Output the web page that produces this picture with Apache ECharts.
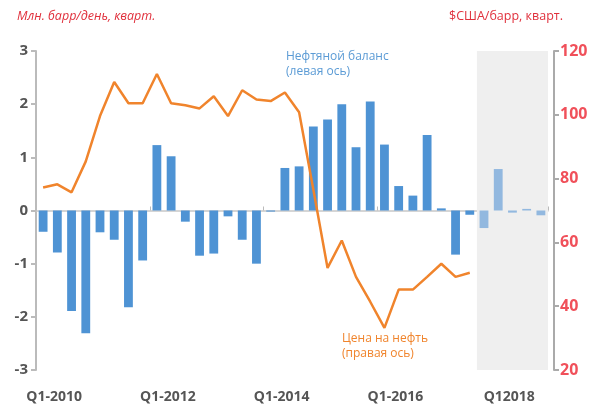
<!DOCTYPE html>
<html>
<head>
<meta charset="utf-8">
<script src="https://cdn.jsdelivr.net/npm/echarts@6/dist/echarts.min.js"></script>
<style>
  html, body { margin: 0; padding: 0; background: #fff; }
  #chart { width: 599px; height: 409px; }
</style>
</head>
<body>
<div id="chart"></div>
<script>
// quarters Q1-2010 .. Q4-2018
const quarters = [
  'Q1-2010', 'Q2-2010', 'Q3-2010', 'Q4-2010',
  'Q1-2011', 'Q2-2011', 'Q3-2011', 'Q4-2011',
  'Q1-2012', 'Q2-2012', 'Q3-2012', 'Q4-2012',
  'Q1-2013', 'Q2-2013', 'Q3-2013', 'Q4-2013',
  'Q1-2014', 'Q2-2014', 'Q3-2014', 'Q4-2014',
  'Q1-2015', 'Q2-2015', 'Q3-2015', 'Q4-2015',
  'Q1-2016', 'Q2-2016', 'Q3-2016', 'Q4-2016',
  'Q1-2017', 'Q2-2017', 'Q3-2017', 'Q4-2017',
  'Q1-2018', 'Q2-2018', 'Q3-2018', 'Q4-2018'
]
// labels shown under the axis (every 8 quarters)
const tickLabels = { 0: 'Q1-2010', 8: 'Q1-2012', 16: 'Q1-2014', 24: 'Q1-2016', 32: 'Q12018' }

// oil balance, mb/d (left axis)
const balance = [
  -0.4, -0.79, -1.89, -2.31, -0.41, -0.55, -1.82, -0.94,
  1.23, 1.02, -0.21, -0.85, -0.81, -0.11, -0.55, -1.0,
  -0.02, 0.8, 0.83, 1.58, 1.71, 2.0, 1.19, 2.05,
  1.24, 0.46, 0.28, 1.42, 0.04, -0.83, -0.08, -0.33,
  0.78, -0.04, 0.03, -0.09
]

// oil price, $/bbl (right axis)
const price = [
  77.2, 78.2, 75.7, 85.4, 99.6, 110.3, 103.6, 103.6,
  112.8, 103.6, 103.0, 102.0, 105.8, 99.6, 107.7, 104.8,
  104.3, 107.0, 100.8, 76.6, 52.0, 60.6, 49.2, 41.4,
  33.2, 45.2, 45.2, 49.2, 53.3, 49.2, 50.5, null,
  null, null, null, null
]

// forecast period (shaded), in quarter positions
const forecastFrom = 31
const forecastTo = 36

const chart = echarts.init(document.getElementById('chart'))

const option = {
  animation: false,
  textStyle: { fontFamily: 'Open Sans' },
  grid: { left: 36, right: 51, top: 51, bottom: 39 },
  xAxis: [
    {
      type: 'category',
      data: quarters,
      position: 'bottom',
      axisLine: { show: false, onZero: false },
      axisTick: { show: false },
      axisLabel: {
        interval: 0,
        formatter: (v, i) => tickLabels[i] || '',
        color: '#555',
        fontWeight: 'bold',
        fontSize: 14,
        margin: 20,
        padding: [0, 0, 0, 22]
      }
    },
    {
      type: 'category',
      data: quarters,
      position: 'bottom',
      axisLine: { show: true, onZero: true, lineStyle: { color: '#c8c8c8', width: 1.5 } },
      axisTick: { show: true, inside: true, interval: 7, length: 4, lineStyle: { color: '#bbb' } },
      axisLabel: { show: false }
    },
    {
      type: 'value',
      min: 0,
      max: quarters.length,
      show: false,
      axisLine: { onZero: false }
    }
  ],
  yAxis: [
    {
      type: 'value',
      min: -3,
      max: 3,
      interval: 1,
      axisLine: { show: true, lineStyle: { color: '#bbb', width: 2 } },
      axisTick: { show: true, length: 5, lineStyle: { color: '#bbb', width: 2 } },
      splitLine: { show: false },
      axisLabel: { color: '#555', fontWeight: 'bold', fontSize: 15, margin: 8 }
    },
    {
      type: 'value',
      min: 20,
      max: 120,
      interval: 20,
      offset: 6,
      axisLine: { show: true, lineStyle: { color: '#aaa', width: 2 } },
      axisTick: { show: true, length: 5, lineStyle: { color: '#aaa', width: 2 } },
      splitLine: { show: false },
      axisLabel: { color: '#f0505a', fontWeight: 'bold', fontSize: 16, margin: 6 }
    }
  ],
  series: [
    {
      type: 'line',
      xAxisIndex: 2,
      yAxisIndex: 0,
      data: [],
      z: 0,
      markArea: {
        silent: true,
        itemStyle: { color: '#efefef' },
        data: [[{ xAxis: forecastFrom }, { xAxis: forecastTo }]]
      }
    },
    {
      name: 'Нефтяной баланс',
      type: 'bar',
      xAxisIndex: 0,
      yAxisIndex: 0,
      data: balance,
      barWidth: '62%',
      z: 2,
      itemStyle: {
        color: (p) => p.dataIndex >= forecastFrom ? '#92b8df' : '#4e93d4'
      }
    },
    {
      name: 'Цена на нефть',
      type: 'line',
      xAxisIndex: 0,
      yAxisIndex: 1,
      data: price,
      showSymbol: false,
      connectNulls: false,
      z: 3,
      lineStyle: { color: '#f0842c', width: 2.5 }
    }
  ],
  graphic: [
    {
      type: 'text', left: 17, top: 10,
      style: { text: 'Млн. барр/день, кварт.', fill: '#e0303c', fontSize: 12.5, fontStyle: 'italic', fontFamily: 'Open Sans' }
    },
    {
      type: 'text', left: 449, top: 10,
      style: { text: '$США/барр, кварт.', fill: '#e0303c', fontSize: 12.5, fontFamily: 'Open Sans' }
    },
    {
      type: 'text', left: 286, top: 49,
      style: { text: 'Нефтяной баланс\n(левая ось)', fill: '#5b9bd5', fontSize: 12, lineHeight: 15, fontFamily: 'Open Sans' }
    },
    {
      type: 'text', left: 342, top: 331,
      style: { text: 'Цена на нефть\n(правая ось)', fill: '#f0842c', fontSize: 12, lineHeight: 15, fontFamily: 'Open Sans' }
    }
  ]
}

chart.setOption(option)
</script>
</body>
</html>
